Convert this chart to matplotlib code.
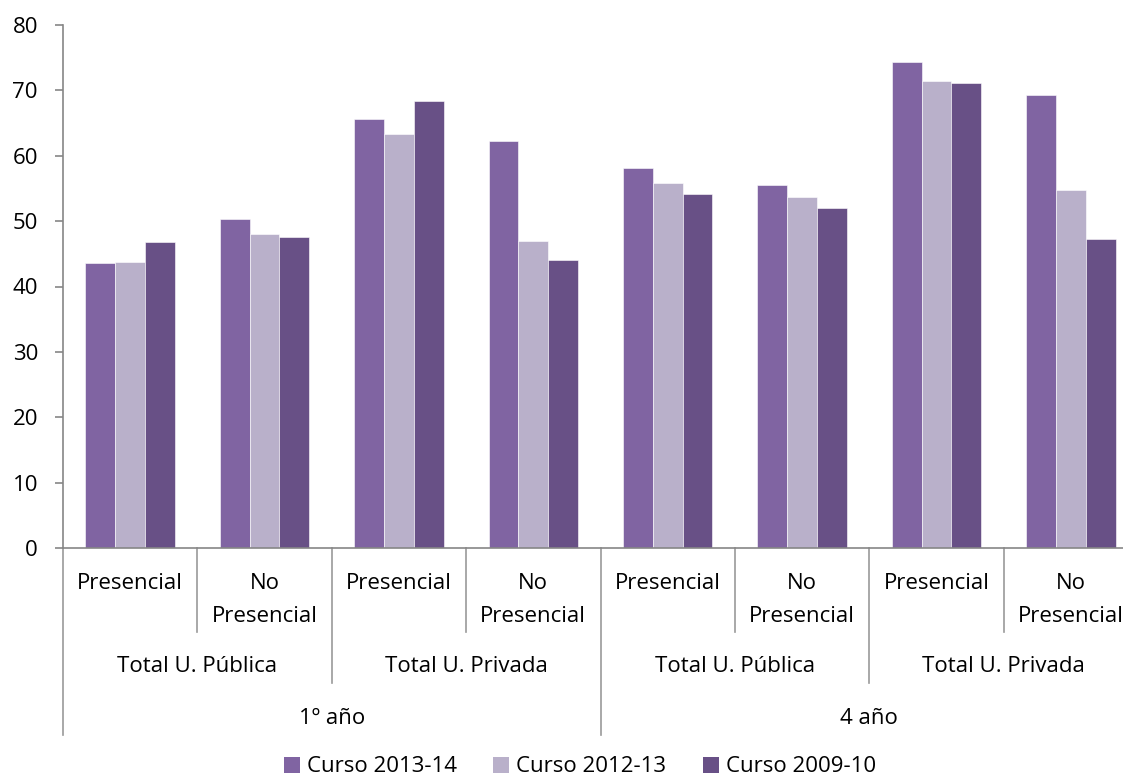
import numpy as np
import matplotlib.pyplot as plt
from matplotlib.transforms import blended_transform_factory
from matplotlib.patches import Patch

plt.rcParams["font.family"] = ["Open Sans", "DejaVu Sans"]

# datos
sub_labels = ["Presencial", "No\nPresencial"] * 4
mid_labels = ["Total U. Pública", "Total U. Privada", "Total U. Pública", "Total U. Privada"]
top_labels = ["1º año", "4 año"]
series_names = ["Curso 2013-14", "Curso 2012-13", "Curso 2009-10"]
curso_1314 = [43.6, 50.4, 65.6, 62.2, 58.2, 55.5, 74.3, 69.3]
curso_1213 = [43.8, 48.0, 63.4, 47.0, 55.9, 53.7, 71.5, 54.8]
curso_0910 = [46.8, 47.6, 68.4, 44.0, 54.1, 52.0, 71.2, 47.3]
colors = ["#8064A2", "#B9B0CA", "#685086"]

W, H = 1123, 780
fs = 16
fig = plt.figure(figsize=(W / 100, H / 100), dpi=100)
# el eje se sale un poco por la derecha, como en el original
ax = fig.add_axes([63 / W, 1 - 548 / H, 1075 / W, 523 / H])

x = np.arange(len(sub_labels))
bw = 1 / 4.5
for i, (vals, c, name) in enumerate(zip([curso_1314, curso_1213, curso_0910], colors, series_names)):
    ax.bar(x + (i - 1) * bw, vals, width=bw, color=c, edgecolor="white", linewidth=0.4, label=name)

ax.set_xlim(-0.5, len(sub_labels) - 0.5)
ax.set_ylim(0, 80)
ax.set_yticks(range(0, 81, 10))
ax.set_xticks([])
for s in ["top", "right"]:
    ax.spines[s].set_visible(False)
for s in ["left", "bottom"]:
    ax.spines[s].set_color("#868686")
    ax.spines[s].set_linewidth(1.2)
ax.tick_params(axis="y", length=6, width=1.2, color="#868686", labelsize=fs, pad=12)

# eje de categorias multinivel
tr = blended_transform_factory(ax.transData, fig.transFigure)
lc = "#9a9a9a"
def fy(py):
    return 1 - py / H

for k in range(len(sub_labels)):
    ax.text(x[k], fy(573), sub_labels[k], transform=tr, ha="center", va="top",
            fontsize=fs, linespacing=1.75)
for k in range(1, len(sub_labels), 2):
    ax.plot([k - 0.5, k - 0.5], [fy(548), fy(632)], transform=tr, color=lc, lw=1.2, clip_on=False)
for k, lab in enumerate(mid_labels):
    ax.text(2 * k + 0.5, fy(666), lab, transform=tr, ha="center", va="center", fontsize=fs)
for k in [2, 6]:
    ax.plot([k - 0.5, k - 0.5], [fy(548), fy(683)], transform=tr, color=lc, lw=1.2, clip_on=False)
for k, lab in enumerate(top_labels):
    ax.text(4 * k + 1.5, fy(718), lab, transform=tr, ha="center", va="center", fontsize=fs)
for k in [0, 4, 8]:
    ax.plot([k - 0.5, k - 0.5], [fy(548), fy(735)], transform=tr, color=lc, lw=1.2, clip_on=False)

handles = [Patch(facecolor=c, label=n) for c, n in zip(colors, series_names)]
fig.legend(handles=handles, loc="center", bbox_to_anchor=(580 / W, fy(767)), ncol=3,
           frameon=False, fontsize=fs, handlelength=0.72, handleheight=0.72,
           handletextpad=0.32, columnspacing=1.65, borderpad=0)

fig.savefig("out.png", dpi=100)
